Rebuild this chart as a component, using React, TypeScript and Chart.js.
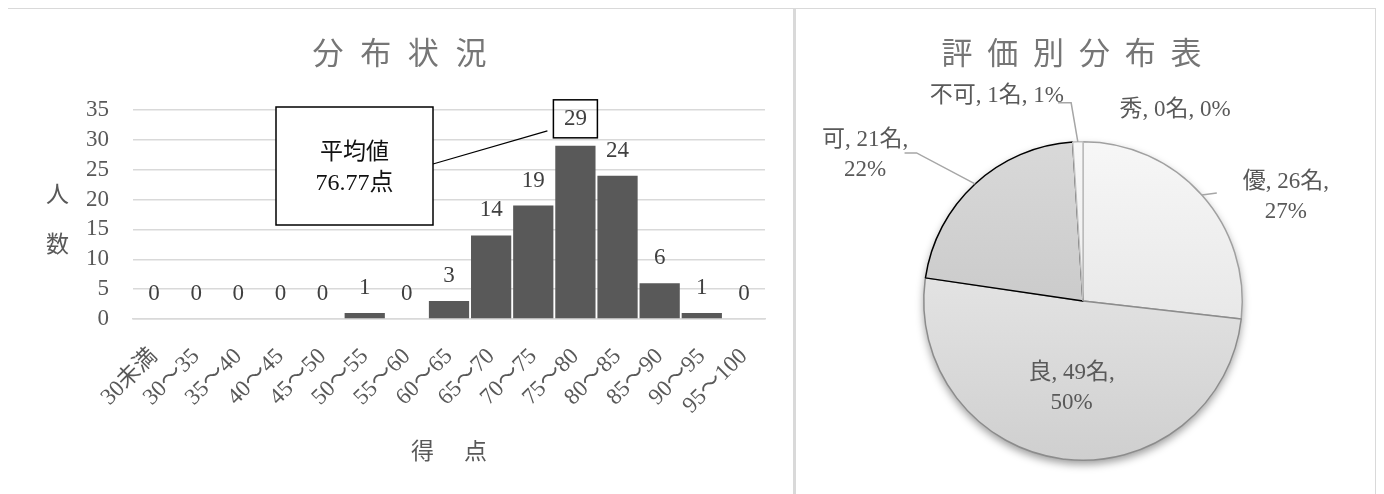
import React, { useEffect, useRef, useState } from 'react';
import { Chart, registerables } from 'chart.js';
Chart.register(...registerables);

// ---------- data ----------
const scoreBands = ['30未満', '30～35', '35～40', '40～45', '45～50', '50～55', '55～60', '60～65', '65～70', '70～75', '75～80', '80～85', '85～90', '90～95', '95～100'];
const studentCounts = [0, 0, 0, 0, 0, 1, 0, 3, 14, 19, 29, 24, 6, 1, 0];
const yMin = 0;
const yMax = 35;
const yStep = 5;
const meanScore = 76.77;

const grades = ['秀', '優', '良', '可', '不可'];
const gradeCounts = [0, 26, 49, 21, 1];
const gradePercents = [0, 27, 50, 22, 1];

const barTitle = '分布状況';
const pieTitle = '評価別分布表';
const yAxisTitle = '人数';
const xAxisTitle = '得点';

// ---------- styles ----------
const SERIF = '"Liberation Serif", "Noto Sans CJK JP", serif';
const CJK = '"Noto Sans CJK JP", sans-serif';
const GRAY = '#595959';

const sliceTop = ['#ffffff', '#f7f7f7', '#f2f2f2', '#d9d9d9', '#f7f7f7'];
const sliceBottom = ['#ffffff', '#dcdcdc', '#cfcfcf', '#bdbdbd', '#e6e6e6'];
const sliceBorder = ['#bfbfbf', '#a0a0a0', '#8c8c8c', '#000000', '#bfbfbf'];
const sliceBorderWidth = [0, 1.5, 1.5, 1.5, 1.5];

// label placement (offset of label block centre from the slice's outer mid point)
const pieLabelLayout: any[] = [
  { dx: 92, dy: -32, wrap: false, leader: [] },
  { dx: 84, dy: 2, wrap: true, leader: [[0, 0], [15, -2]] },
  { inside: 0.55, wrap: true, leader: [] },
  { dx: -110, dy: -29, wrap: true, leader: [[0, 0], [-58.5, -31], [-70.5, -31]] },
  { dx: -81, dy: -46, wrap: false, leader: [[0, 0], [-6.7, -39], [-19.7, -39]] },
];

function drawSpaced(ctx: CanvasRenderingContext2D, text: string, cx: number, cy: number, spacing: number) {
  const chars = Array.from(text);
  const start = cx - ((chars.length - 1) * spacing) / 2;
  chars.forEach((ch, i) => ctx.fillText(ch, start + i * spacing, cy));
}

const barDecor = {
  id: 'barDecor',
  afterDraw(chart: any) {
    const ctx: CanvasRenderingContext2D = chart.ctx;
    const area = chart.chartArea;
    ctx.save();
    ctx.fillStyle = '#767676';
    ctx.font = `31px ${CJK}`;
    ctx.textAlign = 'center';
    ctx.textBaseline = 'middle';
    drawSpaced(ctx, barTitle, 391.5, 43.5, 47.7);
    ctx.fillStyle = GRAY;
    ctx.font = `23px ${CJK}`;
    const midY = (area.top + area.bottom) / 2;
    const yChars = Array.from(yAxisTitle);
    ctx.fillText(yChars[0], 49.5, midY - 21.5);
    ctx.fillText(yChars[1], 49.5, midY + 28.5);
    drawSpaced(ctx, xAxisTitle, (area.left + area.right) / 2, 441, 53);

    const meta = chart.getDatasetMeta(0);
    const maxIdx = studentCounts.indexOf(Math.max(...studentCounts));
    meta.data.forEach((bar: any, i: number) => {
      const ly = bar.y - (i === maxIdx ? 27 : 25);
      ctx.font = `23px ${SERIF}`;
      ctx.fillStyle = '#404040';
      ctx.fillText(String(studentCounts[i]), bar.x, ly);
      if (i === maxIdx) {
        ctx.strokeStyle = '#000';
        ctx.lineWidth = 1.5;
        ctx.strokeRect(bar.x - 22, ly - 19, 44, 38);
        const bx = area.left + 143;
        const by = area.top - 3;
        const bw = 157;
        const bh = 118;
        ctx.beginPath();
        ctx.moveTo(bx + bw, by + 57);
        ctx.lineTo(bar.x - 28, ly + 12);
        ctx.lineWidth = 1.2;
        ctx.stroke();
        ctx.fillStyle = '#fff';
        ctx.fillRect(bx, by, bw, bh);
        ctx.lineWidth = 1.5;
        ctx.strokeRect(bx, by, bw, bh);
        ctx.fillStyle = '#111';
        ctx.font = `23px ${SERIF}`;
        ctx.fillText('平均値', bx + bw / 2, by + 46);
        ctx.font = `24px ${SERIF}`;
        ctx.fillText(`${meanScore.toFixed(2)}点`, bx + bw / 2, by + 77);
      }
    });
    ctx.restore();
  },
};

const pieShadow = {
  id: 'pieShadow',
  beforeDatasetsDraw(chart: any) {
    const arc = chart.getDatasetMeta(0).data[0];
    if (!arc) return;
    const ctx: CanvasRenderingContext2D = chart.ctx;
    ctx.save();
    ctx.shadowColor = 'rgba(0,0,0,0.4)';
    ctx.shadowBlur = 8;
    ctx.shadowOffsetY = 4;
    ctx.beginPath();
    ctx.arc(arc.x, arc.y, arc.outerRadius, 0, Math.PI * 2);
    ctx.fillStyle = '#dddddd';
    ctx.fill();
    ctx.restore();
  },
};

const pieDecor = {
  id: 'pieDecor',
  afterDraw(chart: any) {
    const ctx: CanvasRenderingContext2D = chart.ctx;
    ctx.save();
    ctx.fillStyle = '#767676';
    ctx.font = `31px ${CJK}`;
    ctx.textAlign = 'center';
    ctx.textBaseline = 'middle';
    drawSpaced(ctx, pieTitle, 275.5, 43, 45.8);

    const meta = chart.getDatasetMeta(0);
    meta.data.forEach((arc: any, i: number) => {
      const x = arc.x;
      const y = arc.y;
      const mid = (arc.startAngle + arc.endAngle) / 2;
      const r = arc.outerRadius;
      const lay: any = pieLabelLayout[i];
      const ax = x + Math.cos(mid) * r;
      const ay = y + Math.sin(mid) * r;
      let cx = ax;
      let cy = ay;
      if (lay.inside) {
        cx = x + Math.cos(mid) * r * lay.inside;
        cy = y + Math.sin(mid) * r * lay.inside;
      } else {
        cx = ax + lay.dx;
        cy = ay + lay.dy;
      }
      if (lay.leader.length) {
        ctx.strokeStyle = '#a6a6a6';
        ctx.lineWidth = 1.5;
        ctx.beginPath();
        lay.leader.forEach((p: number[], k: number) => {
          if (k === 0) ctx.moveTo(ax + p[0], ay + p[1]);
          else ctx.lineTo(ax + p[0], ay + p[1]);
        });
        ctx.stroke();
      }
      const head = `${grades[i]}, ${gradeCounts[i]}名,`;
      const pct = `${gradePercents[i]}%`;
      ctx.fillStyle = GRAY;
      ctx.font = `23px ${SERIF}`;
      if (lay.wrap) {
        ctx.fillText(head, cx, cy - 15);
        ctx.fillText(pct, cx, cy + 15);
      } else {
        ctx.fillText(`${head} ${pct}`, cx, cy);
      }
    });
    ctx.restore();
  },
};

function sliceFill(c: any) {
  const i = c.dataIndex;
  if (typeof i !== 'number' || i < 0 || i >= sliceTop.length) return '#e0e0e0';
  const area = c.chart.chartArea;
  if (!area) return sliceTop[i];
  const g = c.chart.ctx.createLinearGradient(0, area.top, 0, area.bottom);
  g.addColorStop(0, sliceTop[i]);
  g.addColorStop(1, sliceBottom[i]);
  return g;
}

export default function App() {
  const barRef = useRef<HTMLCanvasElement>(null);
  const pieRef = useRef<HTMLCanvasElement>(null);
  const [err, setErr] = useState('');

  useEffect(() => {
    let bar: any = null;
    let pie: any = null;
    const errs: string[] = [];
    try {
      bar = new Chart(barRef.current as any, {
        type: 'bar',
        data: {
          labels: scoreBands,
          datasets: [
            {
              data: studentCounts,
              backgroundColor: '#595959',
              borderWidth: 0,
              barPercentage: 1,
              categoryPercentage: 0.955,
            },
          ],
        },
        options: {
          animation: false,
          responsive: false,
          maintainAspectRatio: false,
          layout: { padding: { top: 101, left: 0, right: 28, bottom: 0 } },
          plugins: { legend: { display: false }, tooltip: { enabled: false }, title: { display: false } },
          scales: {
            x: {
              grid: { display: false },
              border: { display: true, color: '#d9d9d9', width: 1.5 },
              ticks: {
                autoSkip: false,
                minRotation: 45,
                maxRotation: 45,
                padding: 16,
                color: GRAY,
                font: { family: SERIF, size: 23 },
              },
              afterFit: (s: any) => {
                s.height = 175;
              },
            },
            y: {
              min: yMin,
              max: yMax,
              ticks: {
                stepSize: yStep,
                maxTicksLimit: 20,
                autoSkip: false,
                padding: 24,
                color: GRAY,
                font: { family: SERIF, size: 23, lineHeight: 1 },
              },
              grid: { color: '#d9d9d9', lineWidth: 1.5, drawTicks: false },
              border: { display: false },
              afterFit: (s: any) => {
                s.width = 125;
              },
            },
          },
        },
        plugins: [barDecor],
      } as any);
    } catch (e: any) {
      errs.push('bar: ' + String(e && e.stack ? e.stack : e));
    }
    try {
      pie = new Chart(pieRef.current as any, {
        type: 'pie',
        data: {
          labels: grades,
          datasets: [
            {
              data: gradeCounts,
              backgroundColor: sliceFill,
              borderColor: sliceBorder,
              borderWidth: sliceBorderWidth,
            },
          ],
        },
        options: {
          animation: false,
          responsive: false,
          maintainAspectRatio: false,
          layout: { padding: { left: 127, right: 132, top: 132, bottom: 33 } },
          plugins: { legend: { display: false }, tooltip: { enabled: false }, title: { display: false } },
        },
        plugins: [pieShadow, pieDecor],
      } as any);
    } catch (e: any) {
      errs.push('pie: ' + String(e && e.stack ? e.stack : e));
    }
    if (errs.length) setErr(errs.join('\n'));
    return () => {
      if (bar) bar.destroy();
      if (pie) pie.destroy();
    };
  }, []);

  const panel: React.CSSProperties = {
    flex: '0 0 auto',
    height: 500,
    border: '2px solid #d9d9d9',
    boxSizing: 'border-box',
    background: '#fff',
  };

  return (
    <div style={{ display: 'flex', marginLeft: -2, marginTop: -1, width: 1372 }}>
      <div style={{ ...panel, width: 789 }}>
        <canvas ref={barRef} width={785} height={485} style={{ display: 'block', width: 785, height: 485 }} />
      </div>
      <div style={{ ...panel, width: 583, marginLeft: -1 }}>
        <canvas ref={pieRef} width={579} height={485} style={{ display: 'block', width: 579, height: 485 }} />
      </div>
      {err ? <pre style={{ position: 'fixed', left: 0, top: 0, fontSize: 10, background: '#ff0', whiteSpace: 'pre-wrap', width: 1300 }}>{err}</pre> : null}
    </div>
  );
}
